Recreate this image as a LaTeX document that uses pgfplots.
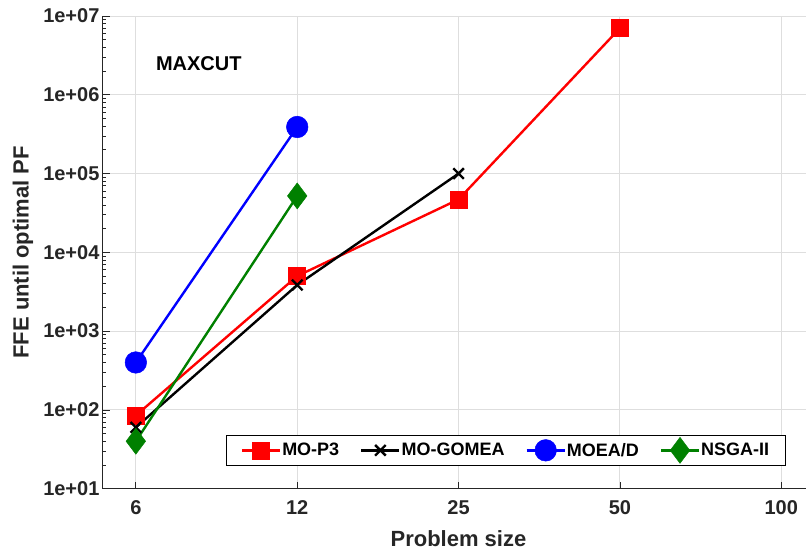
\documentclass[border=0pt]{standalone}
\usepackage{fontspec}
\setmainfont{Liberation Sans}
\usepackage{pgfplots}
\pgfplotsset{compat=1.18}
\definecolor{axgray}{RGB}{38,38,38}
\definecolor{gridgray}{RGB}{222,222,222}
\definecolor{mgreen}{RGB}{0,128,0}
\begin{document}
\begin{tikzpicture}
\begin{axis}[
    name=ax,
    scale only axis,
    width=703pt, height=473pt,
    ymode=log,
    xmin=-0.204, xmax=4.15,
    ymin=1e1, ymax=1e7,
    xtick={0,1,2,3,4},
    xticklabels={6,12,25,50,100},
    ytick={1e1,1e2,1e3,1e4,1e5,1e6,1e7},
    yticklabels={1e+01,1e+02,1e+03,1e+04,1e+05,1e+06,1e+07},
    axis x line*=bottom, axis y line*=left,
    axis line style={-, axgray, line width=1pt},
    tick align=inside,
    major tick length=7pt, minor tick length=3.5pt,
    tick style={axgray, line width=0.8pt},
    grid=major,
    major grid style={gridgray, line width=0.9pt},
    ticklabel style={font=\fontsize{20}{24}\selectfont\bfseries, text=axgray},
    xticklabel style={yshift=-8pt},
    xlabel={Problem size},
    ylabel={FFE until optimal PF},
    label style={font=\fontsize{22}{26}\selectfont\bfseries, text=axgray},
    xlabel style={at={(axis description cs:0.506,-0.106)}, anchor=center},
    ylabel style={at={(axis description cs:-0.114,0.5)}, anchor=center},
    legend columns=4,
    legend style={at={(axis description cs:0.9716,0.0486)}, anchor=south east,
        draw=black, line width=0.8pt, fill=white,
        font=\fontsize{18}{22}\selectfont\bfseries,
        nodes={inner xsep=1pt, inner ysep=3pt},
        /tikz/every even column/.append style={column sep=20pt},
        inner xsep=15pt, inner ysep=2pt},
    legend image code/.code={
        \draw[mark repeat=2, mark phase=2] plot coordinates {(0pt,0pt) (19pt,0pt) (38pt,0pt)};
    },
]
\addplot[red, line width=2.4pt, mark=square*, mark size=8.5pt, mark options={solid, line width=0.5pt}]
    coordinates {(0,85) (1,5000) (2,47000) (3,7.0e6)};
\addlegendentry{MO-P3}
\addplot[black, line width=2.4pt, mark=x, mark size=7.5pt, mark options={solid, line width=2.4pt}]
    coordinates {(0,60) (1,3850) (2,1.0e5)};
\addlegendentry{MO-GOMEA}
\addplot[blue, line width=2.4pt, mark=*, mark size=10.8pt, mark options={solid, line width=0.5pt}]
    coordinates {(0,400) (1,390000)};
\addlegendentry{MOEA/D}
\addplot[mgreen, line width=2.4pt, mark=diamond*, mark size=13pt, mark options={solid, line width=0.5pt}]
    coordinates {(0,40) (1,52000)};
\addlegendentry{NSGA-II}
\node[font=\fontsize{20}{24}\selectfont\bfseries, text=black] at (axis cs:0.39,2.5e6) {MAXCUT};
\end{axis}
% page margins as in the reference
\path (ax.south west) ++(-103pt,-58pt) coordinate (bl);
\path (ax.north east) ++(0pt,16pt) coordinate (tr);
\path (bl) rectangle (tr);
\end{tikzpicture}
\end{document}
